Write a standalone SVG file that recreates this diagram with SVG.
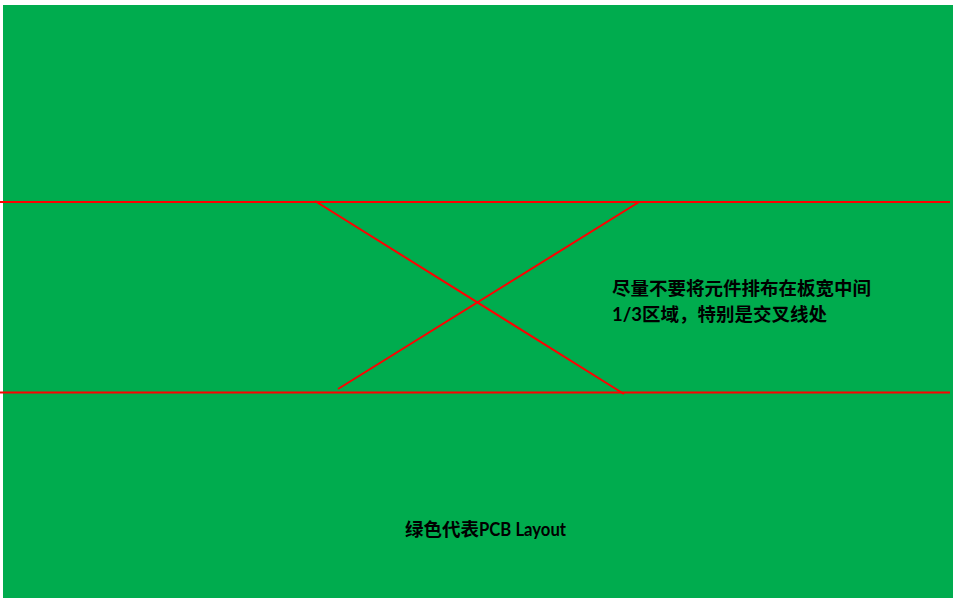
<svg xmlns="http://www.w3.org/2000/svg" width="959" height="602" viewBox="0 0 959 602">
<style>
.t{font-family:"Lato","Noto Sans CJK SC",sans-serif;font-weight:bold;font-size:18.5px;fill:#000}
.r{stroke:#ff0000;stroke-width:2;fill:none}
</style>
<rect x="0" y="0" width="959" height="602" fill="#ffffff"/>
<g id="board">
<rect x="3" y="5" width="950" height="593" fill="#00ac4e"/>
</g>
<g id="connectors">
<line class="r" x1="0" y1="202" x2="950" y2="202"/>
<line class="r" x1="0" y1="392.5" x2="950" y2="392.5"/>
<line class="r" x1="315" y1="201" x2="624" y2="394"/>
<line class="r" x1="639" y1="202" x2="338" y2="389"/>
</g>
<g id="note">
<text class="t" x="612" y="295">尽量不要将元件排布在板宽中间</text>
<text class="t" x="612" y="321">1/3区域，特别是交叉线处</text>
</g>
<g id="legend">
<text class="t" x="405" y="536">绿色代表<tspan textLength="87" lengthAdjust="spacingAndGlyphs">PCB Layout</tspan></text>
</g>
</svg>
